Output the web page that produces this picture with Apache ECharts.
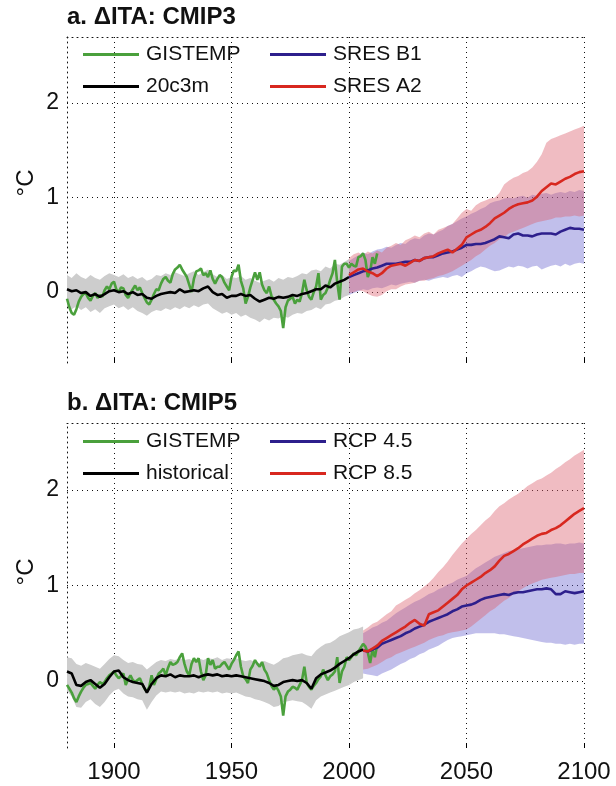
<!DOCTYPE html>
<html><head><meta charset="utf-8">
<script src="https://cdn.jsdelivr.net/npm/echarts@6/dist/echarts.min.js"></script>
<style>html,body{margin:0;padding:0;background:#fff}#c{width:616px;height:786px}</style>
</head><body><div id="c"></div>
<script>
// ---------- axes / ticks ----------
const xTicks = [1900, 1950, 2000, 2050, 2100];
const yTicks = [0, 1, 2];

// ---------- panel a (CMIP3) ----------
const obsYearsA = {start: 1880, end: 2012, step: 1};
const histYearsA = {start: 1880, end: 2000, step: 2};
const projYearsA = {start: 2000, end: 2100, step: 2};

const gistempA = [
-0.07,-0.16,-0.22,-0.24,-0.18,-0.10,-0.05,-0.02,-0.01,-0.06,
-0.09,-0.04,-0.01,-0.06,-0.03,-0.05,0.02,0.06,0.03,0.09,
0.11,0.03,0.00,0.05,0.04,-0.03,-0.06,-0.01,0.03,0.07,
0.02,0.05,-0.01,-0.06,-0.11,-0.13,-0.08,-0.02,0.03,0.02,
0.09,0.14,0.16,0.12,0.10,0.19,0.24,0.26,0.29,0.24,
0.20,0.16,0.08,0.00,0.14,0.22,0.23,0.25,0.18,0.20,
0.16,0.23,0.14,0.09,0.14,0.18,0.16,0.10,0.06,0.02,
0.16,0.23,0.22,0.29,0.12,0.04,-0.12,-0.05,0.05,0.13,
0.21,0.13,0.21,0.08,0.02,-0.01,0.06,-0.04,-0.08,-0.12,
-0.15,-0.20,-0.38,-0.16,-0.09,-0.07,-0.05,-0.12,-0.08,-0.10,
-0.01,0.13,0.02,-0.05,-0.08,0.00,0.06,0.20,-0.08,-0.03,
-0.01,0.05,0.13,0.20,0.34,0.10,-0.08,0.27,0.30,0.30,
0.26,0.30,0.28,0.27,0.37,0.38,0.41,0.34,0.16,0.22,
0.37,0.30,0.41];

const c20c3m = [
0.03,0.01,0.02,-0.01,0.00,-0.04,-0.02,-0.05,-0.02,0.01,
0.02,0.00,0.01,-0.02,0.00,-0.03,-0.02,-0.06,-0.07,-0.04,
-0.02,-0.01,0.00,-0.01,0.03,0.00,0.01,0.02,0.01,0.04,
0.06,0.00,-0.03,-0.02,-0.06,-0.04,-0.04,-0.02,-0.04,-0.03,
-0.07,-0.10,-0.08,-0.06,-0.07,-0.05,-0.06,-0.05,-0.03,-0.04,
-0.02,-0.01,0.01,0.03,0.03,0.07,0.05,0.09,0.11,0.13,
0.16];
const c20c3mHi = [
0.18,0.15,0.20,0.16,0.14,0.18,0.15,0.13,0.17,0.20,
0.18,0.16,0.19,0.15,0.17,0.14,0.16,0.12,0.14,0.18,
0.17,0.20,0.18,0.21,0.19,0.17,0.20,0.22,0.18,0.21,
0.24,0.19,0.16,0.18,0.14,0.16,0.15,0.17,0.13,0.15,
0.12,0.10,0.12,0.14,0.11,0.15,0.13,0.16,0.15,0.17,
0.20,0.19,0.23,0.24,0.22,0.27,0.25,0.30,0.29,0.32,
0.35];
const c20c3mLo = [
-0.14,-0.18,-0.15,-0.19,-0.16,-0.21,-0.18,-0.22,-0.17,-0.15,
-0.13,-0.17,-0.15,-0.19,-0.16,-0.20,-0.22,-0.25,-0.21,-0.19,
-0.20,-0.17,-0.19,-0.16,-0.18,-0.15,-0.17,-0.14,-0.16,-0.13,
-0.12,-0.17,-0.20,-0.23,-0.21,-0.24,-0.22,-0.26,-0.24,-0.27,
-0.29,-0.32,-0.28,-0.30,-0.27,-0.28,-0.25,-0.27,-0.24,-0.22,
-0.23,-0.20,-0.19,-0.16,-0.18,-0.13,-0.12,-0.09,-0.08,-0.05,
-0.03];

const sresA2 = [
0.18,0.21,0.24,0.25,0.22,0.20,0.17,0.20,0.25,0.28,
0.29,0.30,0.28,0.31,0.34,0.33,0.36,0.37,0.38,0.41,
0.43,0.45,0.42,0.46,0.50,0.58,0.61,0.64,0.66,0.69,
0.73,0.78,0.81,0.84,0.88,0.91,0.93,0.94,0.95,0.97,
1.01,1.07,1.11,1.15,1.14,1.17,1.20,1.22,1.25,1.27,
1.28];
const sresA2Hi = [
0.36,0.40,0.42,0.39,0.43,0.41,0.44,0.42,0.47,0.49,
0.52,0.50,0.55,0.57,0.60,0.58,0.62,0.64,0.61,0.66,
0.68,0.70,0.72,0.78,0.84,0.88,0.86,0.92,0.95,0.97,
0.99,1.00,1.05,1.14,1.18,1.21,1.23,1.26,1.28,1.32,
1.38,1.46,1.58,1.62,1.64,1.66,1.68,1.70,1.72,1.74,
1.76];
const sresA2Lo = [
-0.01,0.00,0.02,0.01,-0.02,-0.04,-0.05,-0.03,0.01,0.03,
0.03,0.06,0.08,0.09,0.10,0.12,0.12,0.14,0.15,0.17,
0.18,0.20,0.22,0.25,0.28,0.31,0.34,0.38,0.41,0.45,
0.49,0.52,0.56,0.58,0.62,0.64,0.66,0.68,0.70,0.72,
0.74,0.75,0.76,0.77,0.79,0.79,0.80,0.80,0.81,0.80,
0.81];
const sresB1 = [
0.16,0.18,0.20,0.22,0.23,0.25,0.26,0.28,0.30,0.30,
0.30,0.31,0.32,0.32,0.34,0.33,0.36,0.37,0.37,0.39,
0.41,0.42,0.43,0.45,0.47,0.50,0.50,0.51,0.51,0.52,
0.54,0.56,0.59,0.58,0.57,0.61,0.62,0.60,0.60,0.59,
0.61,0.62,0.62,0.62,0.61,0.64,0.66,0.68,0.67,0.67,
0.66];
const sresB1Hi = [
0.33,0.36,0.39,0.42,0.40,0.43,0.45,0.46,0.48,0.47,
0.50,0.52,0.51,0.55,0.57,0.56,0.60,0.62,0.61,0.64,
0.66,0.70,0.72,0.75,0.78,0.80,0.83,0.85,0.88,0.90,
0.94,0.96,0.97,0.99,1.00,0.99,1.01,1.02,1.00,1.03,
1.02,1.04,1.05,1.03,1.05,1.06,1.05,1.07,1.06,1.08,
1.07];
const sresB1Lo = [
-0.03,-0.01,0.01,0.03,0.02,0.04,0.05,0.04,0.06,0.08,
0.07,0.09,0.10,0.11,0.10,0.12,0.13,0.12,0.14,0.15,
0.16,0.15,0.17,0.18,0.16,0.20,0.22,0.25,0.27,0.26,
0.24,0.22,0.23,0.25,0.27,0.26,0.28,0.27,0.25,0.27,
0.28,0.24,0.26,0.28,0.29,0.27,0.30,0.28,0.30,0.31,
0.30];

// ---------- panel b (CMIP5) ----------
const obsYearsB = {start: 1880, end: 2012, step: 1};
const histYearsB = {start: 1880, end: 2006, step: 2};
const projYearsB = {start: 2006, end: 2100, step: 2};

const gistempB = [
-0.04,-0.08,-0.12,-0.18,-0.22,-0.16,-0.11,-0.07,-0.04,-0.03,
-0.02,-0.05,-0.08,-0.04,-0.01,-0.03,-0.01,0.03,0.06,0.08,
0.10,0.06,0.03,0.05,0.08,-0.04,0.02,0.06,0.01,-0.01,
0.01,0.03,-0.03,-0.08,-0.11,-0.06,0.06,-0.04,0.02,0.08,
0.10,0.13,0.06,0.14,0.20,0.17,0.18,0.20,0.25,0.29,
0.18,0.10,0.06,0.18,0.24,0.20,0.24,0.10,0.01,0.06,
0.24,0.17,0.22,0.13,0.15,0.15,0.18,0.20,0.16,0.12,
0.18,0.22,0.27,0.31,0.15,0.05,0.02,-0.02,0.12,0.16,
0.22,0.18,0.15,0.20,0.12,0.08,0.01,-0.05,-0.09,-0.06,
-0.10,-0.16,-0.36,-0.16,-0.11,-0.09,-0.06,-0.07,-0.09,-0.04,
0.01,0.15,-0.02,-0.06,-0.09,-0.05,-0.02,0.02,0.05,0.12,
0.06,0.01,0.05,0.07,0.10,0.25,-0.02,0.10,0.15,0.25,
0.22,0.25,0.29,0.27,0.31,0.35,0.39,0.36,0.30,0.19,
0.33,0.25,0.38];

const historical = [
0.10,0.08,-0.04,-0.05,-0.01,0.01,-0.03,-0.07,-0.03,0.04,
0.10,0.11,0.04,0.01,-0.01,-0.02,-0.03,-0.12,-0.03,0.03,
0.06,0.05,0.07,0.04,0.06,0.05,0.05,0.06,0.04,0.06,
0.07,0.06,0.07,0.05,0.06,0.05,0.06,0.05,0.04,0.03,
0.02,0.01,0.00,-0.02,-0.05,-0.04,-0.01,0.00,0.01,0.00,
0.01,-0.02,-0.08,0.03,0.07,0.09,0.11,0.14,0.18,0.21,
0.24,0.28,0.31,0.33];
const historicalHi = [
0.25,0.24,0.18,0.16,0.19,0.17,0.15,0.13,0.18,0.23,
0.27,0.26,0.22,0.19,0.20,0.18,0.17,0.12,0.16,0.20,
0.22,0.21,0.23,0.22,0.24,0.22,0.23,0.21,0.24,0.22,
0.24,0.23,0.25,0.22,0.24,0.23,0.24,0.22,0.21,0.22,
0.20,0.19,0.21,0.19,0.17,0.20,0.24,0.25,0.27,0.28,
0.29,0.27,0.26,0.32,0.36,0.39,0.40,0.43,0.47,0.49,
0.51,0.54,0.55,0.57];
const historicalLo = [
-0.10,-0.16,-0.27,-0.28,-0.22,-0.19,-0.24,-0.27,-0.22,-0.15,
-0.10,-0.08,-0.13,-0.16,-0.17,-0.19,-0.20,-0.30,-0.22,-0.15,
-0.11,-0.12,-0.11,-0.12,-0.11,-0.13,-0.12,-0.13,-0.11,-0.12,
-0.11,-0.12,-0.11,-0.13,-0.12,-0.13,-0.12,-0.14,-0.16,-0.17,
-0.19,-0.20,-0.22,-0.24,-0.27,-0.26,-0.22,-0.21,-0.20,-0.21,
-0.22,-0.25,-0.29,-0.20,-0.16,-0.14,-0.12,-0.10,-0.08,-0.06,
-0.04,-0.01,0.01,0.03];

const rcp85 = [
0.32,0.31,0.34,0.37,0.42,0.45,0.48,0.51,0.54,0.57,
0.61,0.64,0.60,0.58,0.70,0.72,0.74,0.78,0.82,0.86,
0.90,0.96,1.00,1.03,1.06,1.09,1.13,1.16,1.20,1.26,
1.31,1.33,1.36,1.39,1.43,1.46,1.49,1.52,1.54,1.55,
1.58,1.60,1.63,1.67,1.71,1.75,1.78,1.81];
const rcp85Hi = [
0.53,0.56,0.60,0.62,0.66,0.70,0.73,0.79,0.82,0.85,
0.88,0.92,0.95,0.99,1.03,1.08,1.14,1.19,1.25,1.32,
1.38,1.44,1.49,1.54,1.58,1.63,1.68,1.72,1.78,1.83,
1.86,1.90,1.93,1.96,2.00,2.04,2.07,2.10,2.12,2.15,
2.18,2.22,2.25,2.29,2.32,2.36,2.39,2.42];
const rcp85Lo = [
0.12,0.13,0.15,0.17,0.20,0.23,0.25,0.28,0.30,0.32,
0.34,0.36,0.38,0.40,0.43,0.45,0.47,0.48,0.50,0.51,
0.52,0.53,0.54,0.57,0.61,0.65,0.69,0.73,0.76,0.80,
0.84,0.87,0.91,0.94,0.97,1.00,1.02,1.04,1.06,1.07,
1.08,1.09,1.10,1.11,1.12,1.12,1.13,1.13];
const rcp45 = [
0.32,0.31,0.33,0.35,0.39,0.41,0.43,0.45,0.47,0.50,
0.52,0.55,0.57,0.59,0.62,0.64,0.66,0.68,0.70,0.73,
0.75,0.78,0.79,0.80,0.82,0.85,0.87,0.88,0.89,0.90,
0.91,0.90,0.92,0.93,0.93,0.94,0.95,0.96,0.96,0.97,
0.96,0.91,0.91,0.94,0.93,0.92,0.93,0.94];
const rcp45Hi = [
0.50,0.53,0.56,0.58,0.61,0.63,0.67,0.71,0.74,0.77,
0.80,0.83,0.85,0.88,0.91,0.93,0.96,0.98,1.01,1.03,
1.06,1.08,1.10,1.14,1.18,1.21,1.24,1.27,1.30,1.32,
1.34,1.36,1.37,1.38,1.39,1.40,1.41,1.42,1.42,1.43,
1.43,1.44,1.44,1.43,1.44,1.44,1.45,1.44];
const rcp45Lo = [
0.08,0.07,0.06,0.05,0.08,0.10,0.12,0.15,0.18,0.20,
0.23,0.25,0.28,0.30,0.33,0.35,0.37,0.40,0.43,0.45,
0.46,0.47,0.48,0.49,0.50,0.50,0.50,0.50,0.50,0.49,
0.49,0.48,0.47,0.46,0.45,0.44,0.43,0.42,0.41,0.40,
0.40,0.39,0.39,0.38,0.39,0.38,0.39,0.39];

// ---------- styles ----------
const FONT = '"Liberation Sans", Arial, Helvetica, sans-serif';
const C_GREEN = '#4aa03c', C_BLACK = '#000000', C_BLUE = '#2d1f8c', C_RED = '#d8281f';
const F_GRAY = '#cdcdcd', F_RED = 'rgba(220,95,110,0.42)', F_BLUE = 'rgba(100,95,205,0.40)';

function years(r) { const a = []; for (let y = r.start; y <= r.end; y += r.step) a.push(y); return a; }
function pairs(r, vals) { const ys = years(r); if (ys.length !== vals.length) console.error('len mismatch', r, ys.length, vals.length); return ys.map((y, i) => [y, vals[i]]); }

function lineSeries(name, xi, yi, r, vals, color, z) {
  return { type: 'line', name, xAxisIndex: xi, yAxisIndex: yi, data: pairs(r, vals),
    showSymbol: false, symbol: 'none', z, lineStyle: { color, width: 2.6 }, itemStyle: { color },
    emphasis: { disabled: true }, animation: false, clip: true };
}
function bandSeries(xi, yi, r, lo, hi, fill, z) {
  const ys = years(r);
  return { type: 'custom', xAxisIndex: xi, yAxisIndex: yi, z, silent: true, animation: false, clip: true,
    data: ys.map((y, i) => [y, lo[i], hi[i]]),
    renderItem: function (params, api) {
      if (params.dataIndex !== 0) return null;
      const pts = [];
      for (let i = 0; i < ys.length; i++) pts.push(api.coord([ys[i], hi[i]]));
      for (let i = ys.length - 1; i >= 0; i--) pts.push(api.coord([ys[i], lo[i]]));
      return { type: 'polygon', shape: { points: pts }, style: { fill: fill, stroke: null } };
    } };
}

const dotted = { color: '#111', width: 1, type: [1, 4] };
function xAxes(g, showLabels) {
  return [
    { type: 'value', gridIndex: g, min: 1880, max: 2100,
      axisLine: { show: false, onZero: false },
      axisTick: { show: true, inside: true, length: 5, customValues: xTicks, lineStyle: { color: '#000', width: 1 } },
      axisLabel: { show: showLabels, customValues: xTicks, formatter: v => String(v), fontFamily: FONT, fontSize: 24, color: '#111', margin: 12 },
      splitLine: { show: true, lineStyle: dotted } },
    { type: 'value', gridIndex: g, min: 1880, max: 2100, position: 'top',
      axisLine: { show: true, onZero: false, lineStyle: dotted },
      axisTick: { show: false }, axisLabel: { show: false }, splitLine: { show: false } }
  ];
}
function yAxis(g, min, max) {
  return { type: 'value', gridIndex: g, min, max,
    axisLine: { show: true, onZero: false, lineStyle: dotted },
    axisTick: { show: false, customValues: yTicks },
    axisLabel: { customValues: yTicks, formatter: v => String(v), fontFamily: FONT, fontSize: 23, color: '#111', margin: 8 },
    splitLine: { show: true, lineStyle: dotted } };
}
function legend(names, left, top) {
  return { data: names, left, top, orient: 'vertical', itemGap: 11, padding: 0, icon: 'rect',
    itemWidth: 56, itemHeight: 3, selectedMode: false,
    textStyle: { fontFamily: FONT, fontSize: 21, color: '#111', padding: [0, 0, 0, 2] } };
}

const option = {
  backgroundColor: '#fff',
  animation: false,
  title: [
    { text: 'a. ΔITA: CMIP3', left: 67, top: 5, padding: 0, textStyle: { fontFamily: FONT, fontSize: 24, fontWeight: 'bold', color: '#111' } },
    { text: 'b. ΔITA: CMIP5', left: 67, top: 391, padding: 0, textStyle: { fontFamily: FONT, fontSize: 24, fontWeight: 'bold', color: '#111' } }
  ],
  grid: [
    { left: 67, right: 32, top: 37, height: 326 },
    { left: 67, right: 32, top: 423, height: 325 }
  ],
  xAxis: [...xAxes(0, false), ...xAxes(1, true)],
  yAxis: [yAxis(0, -0.75, 2.7), yAxis(1, -0.7, 2.7)],
  legend: [
    legend(['GISTEMP', '20c3m'], 83, 44),
    legend(['SRES B1', 'SRES A2'], 270, 44),
    legend(['GISTEMP', 'historical'], 83, 431),
    legend(['RCP 4.5', 'RCP 8.5'], 270, 431)
  ],
  graphic: [
    { type: 'text', x: 26, y: 183, rotation: Math.PI / 2, style: { text: '°C', font: '24px ' + FONT, fill: '#111', align: 'center', verticalAlign: 'middle' } },
    { type: 'text', x: 26, y: 572, rotation: Math.PI / 2, style: { text: '°C', font: '24px ' + FONT, fill: '#111', align: 'center', verticalAlign: 'middle' } }
  ],
  series: [
    bandSeries(0, 0, histYearsA, c20c3mLo, c20c3mHi, F_GRAY, 1),
    bandSeries(0, 0, projYearsA, sresB1Lo, sresB1Hi, F_BLUE, 2),
    bandSeries(0, 0, projYearsA, sresA2Lo, sresA2Hi, F_RED, 3),
    lineSeries('GISTEMP', 0, 0, obsYearsA, gistempA, C_GREEN, 4),
    lineSeries('20c3m', 0, 0, histYearsA, c20c3m, C_BLACK, 5),
    lineSeries('SRES B1', 0, 0, projYearsA, sresB1, C_BLUE, 6),
    lineSeries('SRES A2', 0, 0, projYearsA, sresA2, C_RED, 7),

    bandSeries(2, 1, histYearsB, historicalLo, historicalHi, F_GRAY, 1),
    bandSeries(2, 1, projYearsB, rcp45Lo, rcp45Hi, F_BLUE, 2),
    bandSeries(2, 1, projYearsB, rcp85Lo, rcp85Hi, F_RED, 3),
    lineSeries('GISTEMP', 2, 1, obsYearsB, gistempB, C_GREEN, 4),
    lineSeries('historical', 2, 1, histYearsB, historical, C_BLACK, 5),
    lineSeries('RCP 4.5', 2, 1, projYearsB, rcp45, C_BLUE, 6),
    lineSeries('RCP 8.5', 2, 1, projYearsB, rcp85, C_RED, 7)
  ]
};
const chart = echarts.init(document.getElementById('c'), null, { renderer: 'canvas' });
chart.setOption(option);
</script></body></html>
